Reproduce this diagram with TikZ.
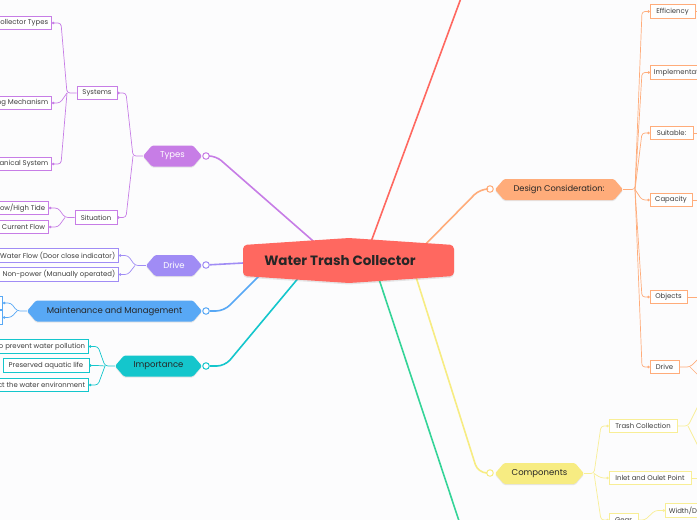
\documentclass[tikz,border=0pt]{standalone}
\usepackage{fontspec}
\setmainfont{Poppins}
\usetikzlibrary{arrows.meta,shadows}
\definecolor{bgc}{RGB}{252,252,253}
\definecolor{cred}{RGB}{255,104,96}
\definecolor{cgreen}{RGB}{52,212,152}
\definecolor{cpurple}{RGB}{199,125,230}
\definecolor{clav}{RGB}{160,140,245}
\definecolor{cblue}{RGB}{88,168,245}
\definecolor{cteal}{RGB}{20,198,204}
\definecolor{corange}{RGB}{255,172,122}
\definecolor{cyellow}{RGB}{247,236,130}
\definecolor{cyelline}{RGB}{248,238,150}
\definecolor{txt}{RGB}{60,60,60}
\newcommand\mtopic[8]{%
  \fill[#5, rounded corners=1.5pt, drop shadow={opacity=0.18,shadow xshift=0pt,shadow yshift=-1.2pt}]
    (#2,#4) -- ({#2+9},{#4-10.5}) -- ({#3-9},{#4-10.5}) -- (#3,#4) -- ({#3-9},{#4+10.5}) -- ({#2+9},{#4+10.5}) -- cycle;
  \node[inner sep=0pt, minimum width={(#3-#2)*1pt}, minimum height=21pt, text=#6, font=\fontsize{#7}{#7}\selectfont] (#1) at ({(#2+#3)/2},#4) {#8};
}
\tikzset{
  mainline/.style={draw=#1, line width=1.6pt},
  tcirc/.style={circle, draw=#1, fill=white, line width=1pt, inner sep=0pt, minimum size=6.5pt},
  sbox/.style={draw=#1, fill=white, line width=0.7pt, inner xsep=3.5pt, inner ysep=0pt, minimum height=13.5pt, font=\fontsize{6.9}{7.5}\selectfont, text=txt},
  conn/.style={draw=#1, line width=0.7pt, rounded corners=3pt, -{Circle[length=2.4pt,width=2.4pt]}},
  ext/.style={draw=#1, line width=0.7pt, rounded corners=3pt},
}
\begin{document}
\begin{tikzpicture}[x=1pt,y=-1pt]
\fill[bgc] (0,0) rectangle (697,520);
\useasboundingbox (0,0) rectangle (697,520);

% topic circles
\node[tcirc=cpurple] (tc-types) at (206,156) {};
\node[tcirc=clav] (tc-drive) at (206,265) {};
\node[tcirc=cblue] (tc-maint) at (206,311) {};
\node[tcirc=cteal] (tc-imp) at (206,366) {};
\node[tcirc=corange] (tc-design) at (490,189) {};
\node[tcirc=cyellow] (tc-comp) at (490,473) {};

% main branches
\coordinate (o-red) at (368,250); \coordinate (e-red) at (464,-10);
\coordinate (o-green) at (373,261); \coordinate (e-green) at (462,530);
\coordinate (o-types) at (320,247);
\coordinate (o-drive) at (262,262);
\coordinate (o-maint) at (268,267);
\coordinate (o-imp) at (300,276);
\coordinate (o-des) at (417,253);
\coordinate (o-comp) at (411,261);
\draw[mainline=cred] (o-red) -- (e-red);
\draw[mainline=cgreen] (o-green) -- (e-green);
\draw[mainline=cpurple, rounded corners=7pt] (o-types) -- (216,156) -- (tc-types);
\draw[mainline=clav] (o-drive) -- (tc-drive);
\draw[mainline=cblue, rounded corners=8pt] (o-maint) -- (224,311) -- (tc-maint);
\draw[mainline=cteal, rounded corners=8pt] (o-imp) -- (225,366) -- (tc-imp);
\draw[mainline=corange, rounded corners=8pt] (o-des) -- (480,189) -- (tc-design);
\draw[mainline=cyellow, rounded corners=9pt] (o-comp) -- (478,473) -- (tc-comp);

% central node
\fill[cred, rounded corners=4pt, drop shadow={opacity=0.18,shadow xshift=0pt,shadow yshift=-1.5pt}]
  (243,245) -- (349,238) -- (454,245) -- (454,276) -- (349,283) -- (243,276) -- cycle;
\node[font=\fontsize{13.5}{14}\selectfont\bfseries, text=black!85, inner sep=0pt] (wtc) at (340,261) {Water Trash Collector};

% topics
\mtopic{types}{143}{202}{156}{cpurple}{white}{8.5}{Types}
\mtopic{tdrive}{146}{202}{265.5}{clav}{white}{8.5}{Drive}
\mtopic{maint}{27}{202}{311}{cblue}{black!85}{8.5}{Maintenance and Management}
\mtopic{imp}{115}{202}{366}{cteal}{black!85}{8.5}{Importance}
\mtopic{design}{495}{623}{189.5}{corange}{black!85}{8.3}{Design Consideration:}
\mtopic{comp}{495}{584}{473.5}{cyellow}{black!85}{8.5}{Components}

% purple subtree
\node[sbox=cpurple, minimum width=40pt] (sys) at (97,93) {Systems};
\node[sbox=cpurple, minimum width=42pt] (sit) at (96,217.5) {Situation};
\node[sbox=cpurple, anchor=east] (ct) at (52,23) {Collector Types};
\node[sbox=cpurple, anchor=east] (cm) at (52,103) {Collecting Mechanism};
\node[sbox=cpurple, anchor=east] (ms) at (52,164) {Mechanical System};
\node[sbox=cpurple, anchor=east] (tide) at (49,208) {Low/High Tide};
\node[sbox=cpurple, anchor=east] (cur) at (49,227) {Current Flow};
\coordinate (b-types) at (133,156);
\draw[conn=cpurple] (types.west) -- (b-types) -- (126,93) -- (sys.east);
\draw[conn=cpurple] (b-types) -- (126,217.5) -- (sit.east);
\coordinate (b-sys) at (67,93);
\draw[conn=cpurple] (sys.west) -- (b-sys) -- (61,23) -- (ct.east);
\draw[conn=cpurple] (b-sys) -- (60,103) -- (cm.east);
\draw[conn=cpurple] (b-sys) -- (61,164) -- (ms.east);
\coordinate (b-sit) at (65,217.5);
\draw[conn=cpurple] (sit.west) -- (b-sit) -- (58,208) -- (tide.east);
\draw[conn=cpurple] (b-sit) -- (58,227) -- (cur.east);

% drive subtree
\node[sbox=clav, anchor=east] (wf) at (119,255.5) {Water Flow (Door close indicator)};
\node[sbox=clav, anchor=east] (np) at (119,274.5) {Non-power (Manually operated)};
\coordinate (b-drive) at (135,265.5);
\draw[conn=clav] (tdrive.west) -- (b-drive) -- (128,255.5) -- (wf.east);
\draw[conn=clav] (b-drive) -- (128,274.5) -- (np.east);

% maintenance subtree
\node[sbox=cblue, anchor=east, minimum width=40pt] (m1) at (3,303) {};
\node[sbox=cblue, anchor=east, minimum width=40pt] (m2) at (3,317.5) {};
\coordinate (b-maint) at (17,311);
\draw[conn=cblue] (maint.west) -- (b-maint) -- (11,303) -- (m1.east);
\draw[conn=cblue] (b-maint) -- (11,317.5) -- (m2.east);

% importance subtree
\node[sbox=cteal, anchor=east] (ip1) at (89,346.5) {To prevent water pollution};
\node[sbox=cteal, minimum width=86pt] (ip2) at (46,365.5) {Preserved aquatic life};
\node[sbox=cteal, anchor=east] (ip3) at (89,385) {Protect the water environment};
\coordinate (b-imp) at (105,366);
\draw[conn=cteal] (imp.west) -- (b-imp) -- (98,346.5) -- (ip1.east);
\draw[conn=cteal] (b-imp) -- (98,365.5) -- (ip2.east);
\draw[conn=cteal] (b-imp) -- (98,385) -- (ip3.east);

% design subtree
\node[sbox=corange, minimum width=45pt] (eff) at (672.5,11.5) {Efficiency};
\node[sbox=corange, anchor=west] (impl) at (650,72.5) {Implementation};
\node[sbox=corange, minimum width=43pt] (suit) at (671.5,133) {Suitable:};
\node[sbox=corange, minimum width=42pt] (cap) at (671,200) {Capacity};
\node[sbox=corange, minimum width=37pt] (obj) at (668.5,297) {Objects};
\node[sbox=corange, minimum width=29pt] (ddrive) at (664.5,367) {Drive};
\coordinate (b-des) at (635,189.5);
\draw[conn=corange] (design.east) -- (b-des) -- (642,11.5) -- (eff.west);
\draw[conn=corange] (b-des) -- (642,72.5) -- (impl.west);
\draw[conn=corange] (b-des) -- (642,133) -- (suit.west);
\draw[conn=corange] (b-des) -- (642,200) -- (cap.west);
\draw[conn=corange] (b-des) -- (642,297) -- (obj.west);
\draw[conn=corange] (b-des) -- (642,367) -- (ddrive.west);
\draw[ext=corange] (eff.east) -- (710,11.5);
\draw[ext=corange] (suit.east) -- (710,133);
\draw[ext=corange] (cap.east) -- (710,200);
\draw[ext=corange] (obj.east) -- (710,297);
\coordinate (x-dd) at (690,367);
\draw[ext=corange] (ddrive.east) -- (x-dd) -- (705,352);
\draw[ext=corange] (x-dd) -- (705,382);

% components subtree
\node[sbox=cyelline, minimum width=68pt] (tcol) at (643,426) {Trash Collection};
\node[sbox=cyelline, minimum width=82pt] (inl) at (650,478) {Inlet and Oulet Point};
\node[sbox=cyelline, minimum width=29pt] (gear) at (623.5,520) {Gear};
\node[sbox=cyelline, anchor=west] (wd) at (665,510.5) {Width/Diameter};
\coordinate (b-comp) at (594,473.5);
\draw[conn=cyelline] (comp.east) -- (b-comp) -- (601,426) -- (tcol.west);
\draw[conn=cyelline] (b-comp) -- (601,478) -- (inl.west);
\draw[conn=cyelline] (b-comp) -- (601,520) -- (gear.west);
\draw[conn=cyelline] (gear.east) -- (645,520) -- (655,510.5) -- (wd.west);
\coordinate (x-tc) at (688,426);
\draw[ext=cyelline] (tcol.east) -- (x-tc) -- (700,402);
\draw[ext=cyelline] (x-tc) -- (700,450);
\draw[ext=cyelline] (inl.east) -- (710,478);
\end{tikzpicture}
\end{document}
